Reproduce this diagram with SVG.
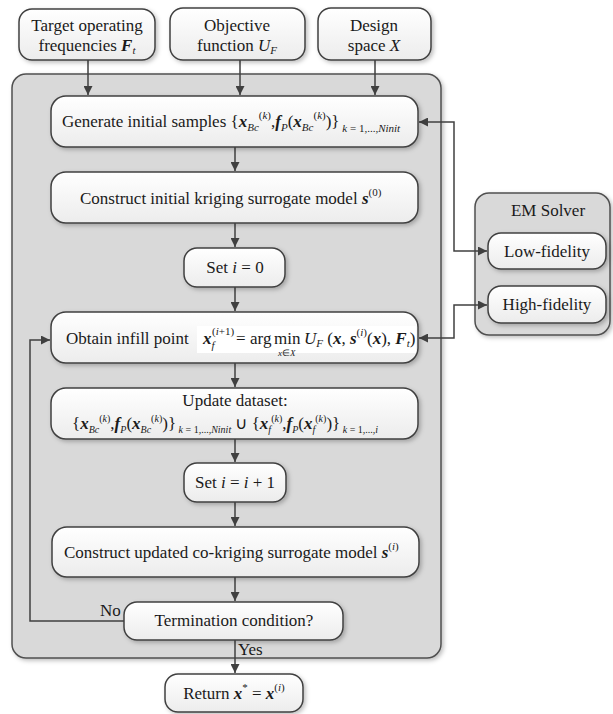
<svg xmlns="http://www.w3.org/2000/svg" width="613" height="714" viewBox="0 0 613 714">
<defs>
<linearGradient id="g" x1="0" y1="0" x2="0" y2="1">
<stop offset="0" stop-color="#ffffff"/>
<stop offset="1" stop-color="#ececec"/>
</linearGradient>
<filter id="sh" x="-10%" y="-10%" width="130%" height="140%">
<feDropShadow dx="2" dy="2" stdDeviation="2" flood-color="#000" flood-opacity="0.25"/>
</filter>
<marker id="ah" viewBox="0 0 10 10" refX="10" refY="5" markerWidth="10" markerHeight="9" markerUnits="userSpaceOnUse" orient="auto-start-reverse">
<path d="M0,0 L10,5 L0,10 z" fill="#404040"/>
</marker>
<style>
.box{fill:url(#g);stroke:#404040;stroke-width:1.5;filter:url(#sh)}
.cont{fill:#d9d9d9;stroke:#505050;stroke-width:1.5;filter:url(#sh)}
.t{font-family:"Liberation Serif","Times New Roman",serif;font-size:17px;fill:#1a1a1a}
.m{text-anchor:middle}
.bi{font-weight:bold;font-style:italic}
.i{font-style:italic}
.s{font-size:11px}
.ss{font-size:10px}
.c{stroke:#404040;stroke-width:1.5;fill:none}
</style>
</defs>

<g id="container">
<rect class="cont" x="12" y="74" width="429" height="584" rx="14"/>
</g>
<g id="emsolver">
<rect class="cont" x="475" y="193" width="135" height="142" rx="14"/>
<text class="t m" x="548" y="216">EM Solver</text>
</g>

<g id="connectors">
<path class="c" d="M88,60 V95" marker-end="url(#ah)"/>
<path class="c" d="M240,60 V95" marker-end="url(#ah)"/>
<path class="c" d="M375,60 V95" marker-end="url(#ah)"/>
<path class="c" d="M235,147 V171" marker-end="url(#ah)"/>
<path class="c" d="M235,223 V247" marker-end="url(#ah)"/>
<path class="c" d="M235,287 V311" marker-end="url(#ah)"/>
<path class="c" d="M235,363 V387" marker-end="url(#ah)"/>
<path class="c" d="M235,439 V462" marker-end="url(#ah)"/>
<path class="c" d="M235,502 V526" marker-end="url(#ah)"/>
<path class="c" d="M235,577 V601" marker-end="url(#ah)"/>
<path class="c" d="M235,640 V673" marker-end="url(#ah)"/>
<path class="c" d="M124,621 H30 V340 H50" marker-end="url(#ah)"/>
<path class="c" d="M419,122 H454 V251 H487" marker-start="url(#ah)" marker-end="url(#ah)"/>
<path class="c" d="M419,338 H454 V305 H487" marker-start="url(#ah)" marker-end="url(#ah)"/>
<text class="t" x="100" y="616">No</text>
<text class="t" x="238" y="655">Yes</text>
</g>

<g id="target">
<rect class="box" x="19" y="9" width="136" height="51" rx="13"/>
<text class="t m" x="87" y="31">Target operating</text>
<text class="t m" x="87" y="51">frequencies <tspan class="bi">F</tspan><tspan class="s i" dy="3">t</tspan></text>
</g>
<g id="objective">
<rect class="box" x="170" y="8" width="135" height="52" rx="13"/>
<text class="t m" x="237" y="31">Objective</text>
<text class="t m" x="237" y="51">function <tspan class="i">U</tspan><tspan class="s i" dy="3">F</tspan></text>
</g>
<g id="design">
<rect class="box" x="318" y="8" width="113" height="52" rx="13"/>
<text class="t m" x="374" y="31">Design</text>
<text class="t m" x="374" y="51">space <tspan class="i">X</tspan></text>
</g>

<g id="generate">
<rect class="box" x="51" y="96" width="367" height="51" rx="15"/>
<text class="t" x="62" y="127">Generate initial samples {<tspan class="bi">x</tspan><tspan class="s i" dy="4">Bc</tspan><tspan class="s" dy="-12">(</tspan><tspan class="s i">k</tspan><tspan class="s">)</tspan><tspan dy="8">,</tspan><tspan class="bi">f</tspan><tspan class="s i" dy="4">P</tspan><tspan dy="-4">(</tspan><tspan class="bi">x</tspan><tspan class="s i" dy="4">Bc</tspan><tspan class="s" dy="-12">(</tspan><tspan class="s i">k</tspan><tspan class="s">)</tspan><tspan dy="8">)}</tspan><tspan class="s" dy="5"> <tspan class="i">k</tspan> = 1,...,<tspan class="i">Ninit</tspan></tspan></text>
</g>

<g id="construct0">
<rect class="box" x="51" y="172" width="367" height="51" rx="15"/>
<text class="t" x="80" y="204">Construct initial kriging surrogate model <tspan class="bi">s</tspan><tspan class="s" dy="-8">(0)</tspan></text>
</g>

<g id="seti0">
<rect class="box" x="184" y="248" width="101" height="39" rx="13"/>
<text class="t m" x="235" y="273">Set <tspan class="i">i</tspan> = 0</text>
</g>

<g id="obtain">
<rect class="box" x="51" y="312" width="367" height="51" rx="15"/>
<rect x="197" y="326" width="219" height="27" fill="#ffffff"/>
<text class="t" x="66" y="344">Obtain infill point</text>
<text class="t" x="203" y="344"><tspan class="bi">x</tspan><tspan class="s i" dy="5">f</tspan></text>
<text class="t s" x="212" y="335">(<tspan class="i">i</tspan>+1)</text>
<text class="t" x="236" y="344">=</text>
<text class="t" x="250" y="344">arg</text>
<text class="t" x="274" y="344">min</text>
<text class="t i" x="278" y="356" style="font-size:9px">x<tspan style="font-style:normal">∈</tspan>X</text>
<text class="t" x="304" y="344"><tspan class="i">U</tspan><tspan class="s i" dy="3">F</tspan><tspan dy="-3"> (</tspan><tspan class="bi">x</tspan>, <tspan class="bi">s</tspan><tspan class="s" dy="-8">(<tspan class="i">i</tspan>)</tspan><tspan dy="8">(</tspan><tspan class="bi">x</tspan>), <tspan class="bi">F</tspan><tspan class="s i" dy="3">t</tspan><tspan dy="-3">)</tspan></text>
</g>

<g id="update">
<rect class="box" x="51" y="388" width="367" height="51" rx="15"/>
<text class="t m" x="235" y="406">Update dataset:</text>
<text class="t" x="72" y="429">{<tspan class="bi">x</tspan><tspan class="ss i" dy="4">Bc</tspan><tspan class="ss" dy="-11">(</tspan><tspan class="ss i">k</tspan><tspan class="ss">)</tspan><tspan dy="7">,</tspan><tspan class="bi">f</tspan><tspan class="ss i" dy="4">P</tspan><tspan dy="-4">(</tspan><tspan class="bi">x</tspan><tspan class="ss i" dy="4">Bc</tspan><tspan class="ss" dy="-11">(</tspan><tspan class="ss i">k</tspan><tspan class="ss">)</tspan><tspan dy="7">)}</tspan><tspan class="ss" dy="4"> <tspan class="i">k</tspan> = 1,...,<tspan class="i">Ninit</tspan></tspan><tspan dy="-4"> ∪ {</tspan><tspan class="bi">x</tspan><tspan class="ss i" dy="4">f</tspan><tspan class="ss" dy="-11">(</tspan><tspan class="ss i">k</tspan><tspan class="ss">)</tspan><tspan dy="7">,</tspan><tspan class="bi">f</tspan><tspan class="ss i" dy="4">P</tspan><tspan dy="-4">(</tspan><tspan class="bi">x</tspan><tspan class="ss i" dy="4">f</tspan><tspan class="ss" dy="-11">(</tspan><tspan class="ss i">k</tspan><tspan class="ss">)</tspan><tspan dy="7">)}</tspan><tspan class="ss" dy="4"> <tspan class="i">k</tspan> = 1,...,<tspan class="i">i</tspan></tspan></text>
</g>

<g id="setinc">
<rect class="box" x="184" y="463" width="102" height="39" rx="13"/>
<text class="t m" x="235" y="488">Set <tspan class="i">i</tspan> = <tspan class="i">i</tspan> + 1</text>
</g>

<g id="constructi">
<rect class="box" x="52" y="527" width="367" height="50" rx="15"/>
<text class="t" x="64" y="558">Construct updated co-kriging surrogate model <tspan class="bi">s</tspan><tspan class="s" dy="-8">(<tspan class="i">i</tspan>)</tspan></text>
</g>

<g id="termination">
<rect class="box" x="124" y="602" width="219" height="38" rx="13"/>
<text class="t m" x="234" y="626">Termination condition?</text>
</g>

<g id="return">
<rect class="box" x="165" y="674" width="138" height="38" rx="13"/>
<text class="t m" x="234" y="699">Return <tspan class="bi">x</tspan><tspan class="s" dy="-8">*</tspan><tspan dy="8"> = </tspan><tspan class="bi">x</tspan><tspan class="s" dy="-8">(<tspan class="i">i</tspan>)</tspan></text>
</g>

<g id="lowfi">
<rect class="box" x="488" y="233" width="118" height="36" rx="13"/>
<text class="t m" x="547" y="257">Low-fidelity</text>
</g>
<g id="highfi">
<rect class="box" x="488" y="286" width="118" height="37" rx="13"/>
<text class="t m" x="547" y="310">High-fidelity</text>
</g>
</svg>
